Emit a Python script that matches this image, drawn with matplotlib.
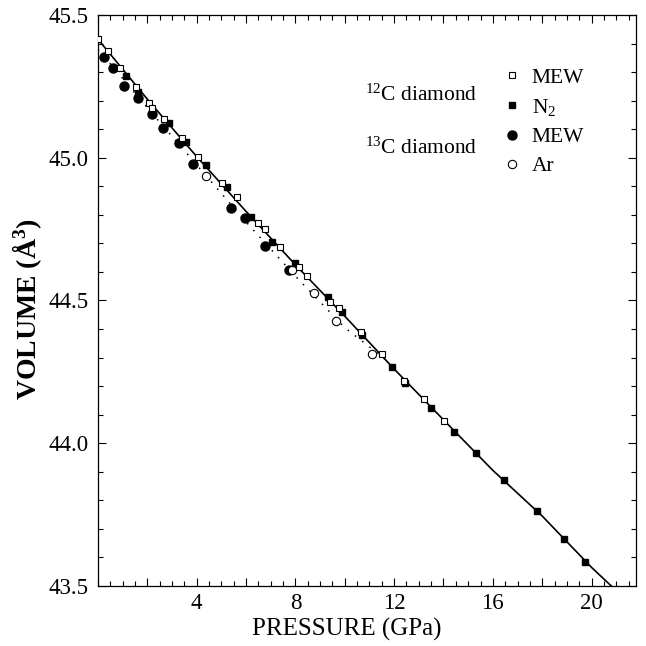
"""Diamond equation of state: volume vs pressure for 12C and 13C samples."""

import matplotlib

matplotlib.use("Agg")
import matplotlib.pyplot as plt  # noqa: E402
from matplotlib.ticker import FuncFormatter, MultipleLocator  # noqa: E402

plt.rcParams["font.family"] = ["Liberation Serif", "DejaVu Serif"]
plt.rcParams["mathtext.fontset"] = "custom"
plt.rcParams["mathtext.rm"] = "Liberation Serif"
plt.rcParams["mathtext.it"] = "Liberation Serif:italic"
plt.rcParams["mathtext.bf"] = "Liberation Serif:bold"

# 12C diamond, methanol-ethanol-water medium (open squares)
p12_mew = [0.0, 0.41, 0.88, 1.56, 2.06, 2.17, 2.68, 3.39, 4.07, 5.04, 5.63, 6.47,
           6.78, 7.39, 8.13, 8.47, 9.39, 9.76, 10.64, 11.52, 12.40, 13.19, 14.03]
v12_mew = [45.415, 45.374, 45.313, 45.247, 45.193, 45.173, 45.135, 45.068, 45.004,
           44.911, 44.864, 44.770, 44.750, 44.688, 44.618, 44.587, 44.496, 44.474,
           44.389, 44.313, 44.219, 44.155, 44.078]

# 12C diamond, N2 medium (filled squares)
p12_n2 = [1.15, 1.63, 2.89, 3.55, 4.37, 5.22, 6.19, 7.05, 8.00, 9.33, 9.87, 10.68,
          11.90, 12.44, 13.49, 14.44, 15.32, 16.44, 17.80, 18.87, 19.75]
v12_n2 = [45.286, 45.231, 45.121, 45.056, 44.974, 44.898, 44.794, 44.706, 44.630,
          44.513, 44.459, 44.379, 44.268, 44.210, 44.125, 44.038, 43.965, 43.871,
          43.763, 43.664, 43.585]

# 13C diamond, methanol-ethanol-water medium (filled circles)
p13_mew = [0.23, 0.61, 1.05, 1.63, 2.17, 2.64, 3.27, 3.86, 5.40, 5.97, 6.78, 7.73]
v13_mew = [45.352, 45.313, 45.251, 45.210, 45.153, 45.103, 45.052, 44.977, 44.823,
           44.788, 44.692, 44.607]

# 13C diamond, Ar medium (open circles)
p13_ar = [4.39, 7.86, 8.77, 9.66, 11.09]
v13_ar = [44.937, 44.607, 44.527, 44.429, 44.312]

# fitted curves
fit12_p = [0.0, 2.0, 4.0, 6.0, 8.0, 10.0, 12.0, 14.0, 16.0, 18.0, 20.0, 20.8]
fit12_v = [45.415, 45.205, 45.004, 44.812, 44.625, 44.445, 44.260, 44.082, 43.905,
           43.745, 43.565, 43.500]
fit13_p = [0.0, 2.0, 4.0, 6.0, 8.0, 10.0, 11.7]
fit13_v = [45.380, 45.175, 44.975, 44.775, 44.585, 44.405, 44.290]

fig = plt.figure(figsize=(6.46, 6.46), dpi=100)
ax = fig.add_axes([0.1517, 0.0929, 0.8328, 0.8839])

ax.plot(fit12_p, fit12_v, color="black", lw=1.2, zorder=1)
ax.plot(fit13_p, fit13_v, color="black", lw=1.1, ls=(0, (1, 5)), zorder=1)

h_mew12, = ax.plot(p12_mew, v12_mew, "s", ms=5, mfc="white", mec="black", mew=0.8,
                   ls="none", zorder=4)
h_n2, = ax.plot(p12_n2, v12_n2, "s", ms=5, mfc="black", mec="black", ls="none",
                zorder=3)
h_mew13, = ax.plot(p13_mew, v13_mew, "o", ms=6.5, mfc="black", mec="black",
                   ls="none", zorder=2)
h_ar, = ax.plot(p13_ar, v13_ar, "o", ms=6, mfc="white", mec="black", mew=0.8,
                ls="none", zorder=2)

ax.set_xlim(0, 21.8)
ax.set_ylim(43.5, 45.5)

ax.xaxis.set_major_locator(MultipleLocator(2))
ax.xaxis.set_minor_locator(MultipleLocator(0.5))
ax.xaxis.set_major_formatter(
    FuncFormatter(lambda v, _: f"{v:.0f}" if v > 0 and round(v) % 4 == 0 else ""))
ax.yaxis.set_major_locator(MultipleLocator(0.5))
ax.yaxis.set_minor_locator(MultipleLocator(0.1))
ax.yaxis.set_major_formatter(FuncFormatter(lambda v, _: f"{v:.1f}"))

ax.tick_params(which="both", direction="in", top=True, right=True,
               labelsize=16.5, width=0.8)
ax.tick_params(which="major", length=6, pad=7)
ax.tick_params(axis="x", which="major", pad=5)
ax.tick_params(which="minor", length=3.5)
for s in ax.spines.values():
    s.set_linewidth(0.9)

ax.set_xlabel("PRESSURE (GPa)", fontsize=18)
ax.xaxis.set_label_coords(0.462, -0.056)
ax.set_ylabel(r"VOLUME (Å$^{\mathbf{3}}$)", fontsize=20, fontweight="bold")
ax.yaxis.set_label_coords(-0.1, 0.485)

ax.text(0.705, 0.86, "$^{12}$C diamond", transform=ax.transAxes, ha="right",
        va="center", fontsize=15.5)
ax.text(0.705, 0.767, "$^{13}$C diamond", transform=ax.transAxes, ha="right",
        va="center", fontsize=15.5)

ax.legend([h_mew12, h_n2, h_mew13, h_ar], ["MEW", "N$_2$", "MEW", "Ar"],
          loc="upper left", bbox_to_anchor=(0.75, 0.908), frameon=False,
          fontsize=15.5, handlelength=1.0, handletextpad=0.4, borderpad=0,
          borderaxespad=0, labelspacing=0.43)

fig.savefig("out.png", dpi=100)
